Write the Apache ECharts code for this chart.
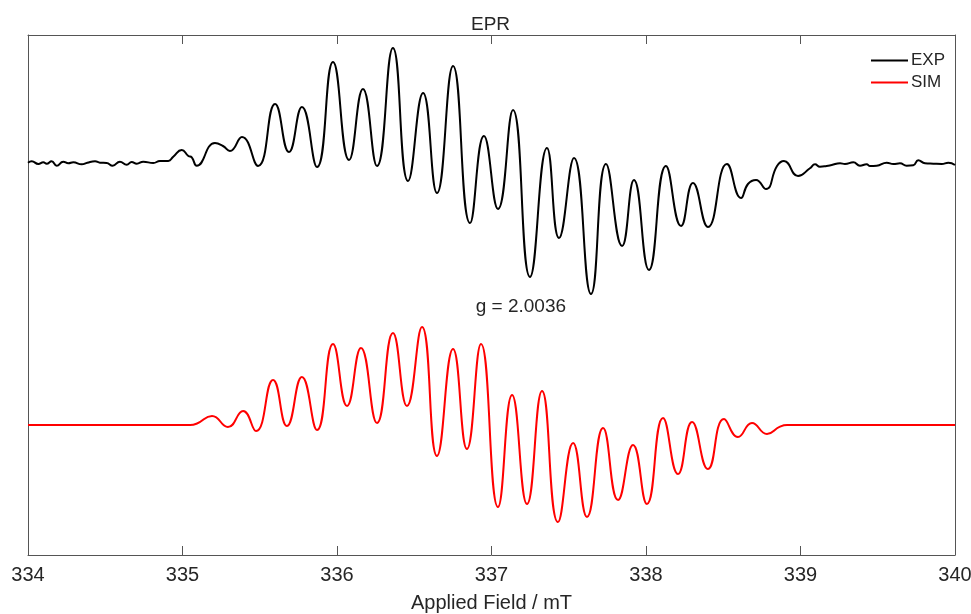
<!DOCTYPE html>
<html>
<head>
<meta charset="utf-8">
<script src="https://cdn.jsdelivr.net/npm/echarts@6/dist/echarts.min.js"></script>
<style>html,body{margin:0;padding:0;background:#fff;}#c{width:971px;height:614px;}</style>
</head>
<body>
<div id="c"></div>
<script>
// Applied field (mT) and intensity (arbitrary units, offset traces)
const expField = [334.000,334.024,334.067,334.099,334.121,334.153,334.186,334.228,334.261,334.293,334.348,334.384,334.434,334.466,334.509,334.548,334.595,334.639,334.671,334.704,334.746,334.811,334.854,334.908,334.940,334.995,335.038,335.060,335.092,
335.210,335.262,335.307,335.385,335.489,335.599,335.689,335.773,335.871,335.974,336.078,336.168,336.259,336.362,336.460,336.557,336.647,336.751,336.861,336.951,337.042,337.139,337.249,337.359,337.437,337.534,337.644,337.741,337.845,337.922,338.019,338.129,338.227,338.304,338.401,338.524,338.615,338.660,338.712,338.777,338.848,338.893,338.984,
339.061,339.094,339.126,339.169,339.202,339.256,339.288,339.342,339.385,339.428,339.450,339.493,339.558,339.601,339.644,339.687,339.730,339.762,339.806,339.860,339.914,339.957,340.000];
const expIntensity = [392.3,393.7,391,392.7,391.3,393.7,389.3,393.3,391.7,392.7,390.7,392.3,393.7,392.3,392,389.3,393.3,390.3,393,391.3,393.3,392,394,394,398.3,405,399,397.7,389.3,
412,409,404,418,389,451,403,448,388,493,395,466,389,507,374,462,362,489,332,419,346,445,278,407,317,397,261,391,309,375,285,389,329,372,328,391,357,371,375,366,389,394,379,
386.7,390.7,388.3,389,390,391.7,391,392.7,389.3,390.7,389,389.3,392.3,391,391.7,389.3,389.7,394.7,391.7,391.3,391,392.3,390];

const simField = [334.000,335.049,335.094,335.191,335.294,335.392,335.476,335.586,335.676,335.773,335.871,335.974,336.065,336.155,336.259,336.362,336.453,336.550,336.647,336.751,336.841,336.932,337.042,337.133,337.230,337.327,337.430,337.528,337.618,337.722,337.819,337.916,338.006,338.110,338.207,338.298,338.401,338.505,338.595,338.686,338.783,338.867,338.913,340.000];
const simIntensity = [130,130,131.5,139,128,144,124,175,129,178,125,211,149,207,132,222,149,228,99,206,106,211,48,160,51,164,33,112,38,127,55,110,51,137,81,133,86,136,118,132,121,128.3,130,130];

const xTicks = [334,335,336,337,338,339,340];
const seriesNames = ['EXP','SIM'];
const annotation = {text:'g = 2.0036', field:337.19, intensity:248};

const expData = expField.map((f,i)=>[f,expIntensity[i]]);
const simData = simField.map((f,i)=>[f,simIntensity[i]]);

const FONT = "'Liberation Sans', Arial, sans-serif";
const AX = '#555';
const chart = echarts.init(document.getElementById('c'));
const baseX = {
  type:'value', min:xTicks[0], max:xTicks[xTicks.length-1], interval:1,
  axisLine:{show:true, onZero:false, lineStyle:{color:AX, width:1}},
  axisTick:{show:true, inside:true, length:9, lineStyle:{color:AX}},
  splitLine:{show:false}
};
chart.setOption({
  animation:false,
  backgroundColor:'#fff',
  title:{text:'EPR', left:466, top:10, textStyle:{fontFamily:FONT, fontSize:19, fontWeight:'normal', color:'#262626'}},
  legend:{
    data:seriesNames, orient:'vertical', left:866, top:47, icon:'rect', itemWidth:37, itemHeight:2, itemGap:5,
    textStyle:{fontFamily:FONT, fontSize:17, color:'#262626', padding:[0,0,0,-2]}
  },
  grid:{left:28, right:16, top:35, bottom:59, containLabel:false, outerBoundsMode:'none'},
  xAxis:[
    Object.assign({}, baseX, {position:'bottom', name:'Applied Field / mT', nameLocation:'middle', nameGap:38,
      nameTextStyle:{fontFamily:FONT, fontSize:20, color:'#262626'},
      axisLabel:{show:true, fontFamily:FONT, fontSize:20, color:'#262626', margin:10}}),
    Object.assign({}, baseX, {position:'top', axisLabel:{show:false}})
  ],
  yAxis:[
    {type:'value', min:0, max:520, position:'left', axisLine:{show:true, onZero:false, lineStyle:{color:AX}}, axisTick:{show:false}, axisLabel:{show:false}, splitLine:{show:false}},
    {type:'value', min:0, max:520, position:'right', axisLine:{show:true, onZero:false, lineStyle:{color:AX}}, axisTick:{show:false}, axisLabel:{show:false}, splitLine:{show:false}}
  ],
  series:[
    {name:seriesNames[0], type:'line', data:expData, showSymbol:false, smooth:0.5, color:'#000', lineStyle:{color:'#000', width:2}},
    {name:seriesNames[1], type:'line', data:simData, showSymbol:false, smooth:0.5, color:'#ff0000', lineStyle:{color:'#ff0000', width:2}}
  ]
});
const p = chart.convertToPixel({xAxisIndex:0, yAxisIndex:0}, [annotation.field, annotation.intensity]);
chart.setOption({graphic:[{type:'text', x:p[0], y:p[1], style:{text:annotation.text, fontFamily:FONT, fontSize:19, fill:'#262626', align:'center', verticalAlign:'middle'}}]});
</script>
</body>
</html>
